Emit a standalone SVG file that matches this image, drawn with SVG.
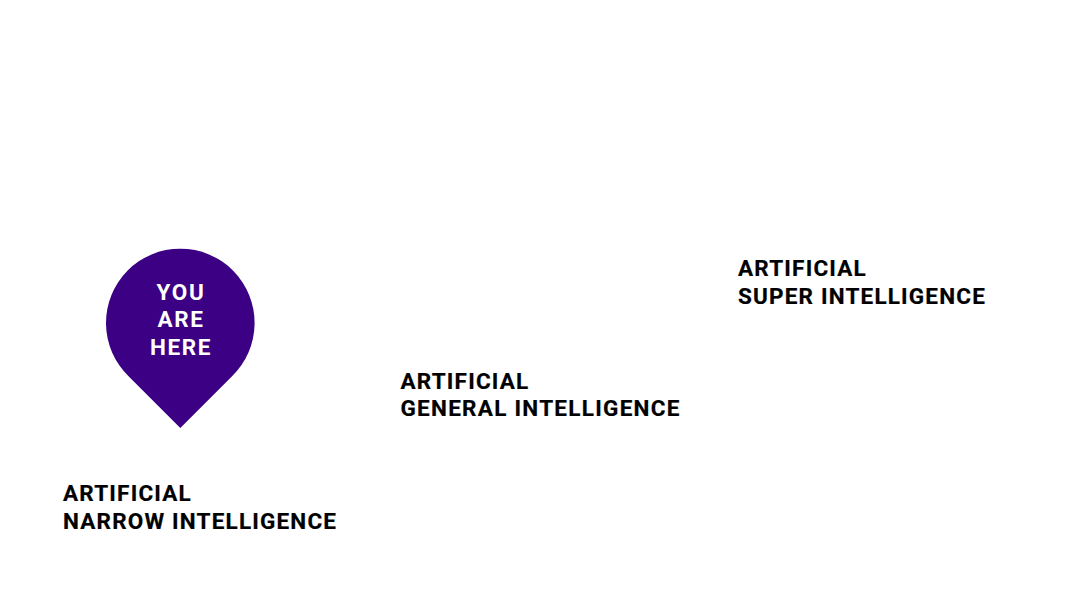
<svg xmlns="http://www.w3.org/2000/svg" width="1080" height="608" viewBox="0 0 1080 608">
<style>
.l{font-family:"Roboto","Liberation Sans",sans-serif;font-weight:700;font-size:22.500px;letter-spacing:1.180px;fill:#000;stroke:#000;stroke-width:.2px}
.p{font-family:"Roboto","Liberation Sans",sans-serif;font-weight:700;font-size:22.500px;letter-spacing:1.600px;fill:#fff;text-anchor:middle}
.w{letter-spacing:1.270px}
</style>
<rect width="1080" height="608" fill="#fff"/>
<g id="pin">
<path d="M180.300 428L128.800 376.500A74.300 74.300 0 1 1 231.800 376.500Z" fill="#3b0083"/>
<text class="p" x="181" y="300">YOU</text>
<text class="p" x="181" y="327.300">ARE</text>
<text class="p" x="181" y="355">HERE</text>
</g>
<g id="ani"><text class="l" x="63" y="501">ARTIFICIAL</text><text class="l" x="63" y="528.500">NARROW INTELLIGENCE</text></g>
<g id="agi"><text class="l" x="400.500" y="388.500">ARTIFICIAL</text><text class="l w" x="400.500" y="416">GENERAL INTELLIGENCE</text></g>
<g id="asi"><text class="l" x="738" y="276">ARTIFICIAL</text><text class="l" x="738" y="303.500">SUPER INTELLIGENCE</text></g>
</svg>
